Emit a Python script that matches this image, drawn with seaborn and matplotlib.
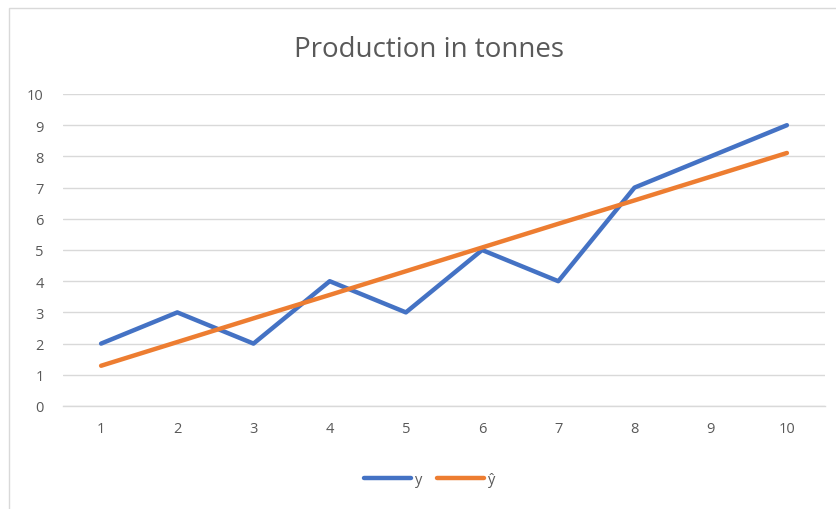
import matplotlib
matplotlib.use("Agg")
import matplotlib.pyplot as plt
import seaborn as sns
import pandas as pd
from matplotlib.patches import Rectangle

# Data
x_vals = [1, 2, 3, 4, 5, 6, 7, 8, 9, 10]
y_vals = [2, 3, 2, 4, 3, 5, 4, 7, 8, 9]
yhat_vals = [1.29, 2.05, 2.81, 3.56, 4.32, 5.08, 5.84, 6.59, 7.35, 8.11]
series_names = ["y", "ŷ"]
title = "Production in tonnes"
y_ticks = [0, 1, 2, 3, 4, 5, 6, 7, 8, 9, 10]

df = pd.DataFrame({
    "x": x_vals * 2,
    "value": y_vals + yhat_vals,
    "series": [series_names[0]] * len(x_vals) + [series_names[1]] * len(x_vals),
})

sns.set_theme(style="white")
plt.rcParams["font.family"] = ["Open Sans", "DejaVu Sans"]

fig = plt.figure(figsize=(8.37, 5.10), dpi=100)
ax = fig.add_axes([63 / 837, 1 - 407 / 510, (825 - 63) / 837, (407 - 95) / 510])

sns.lineplot(data=df, x="x", y="value", hue="series",
             palette={"y": "#4472C4", "ŷ": "#ED7D31"},
             linewidth=3.2, ax=ax, legend=True)

ax.set_xlim(0.5, 10.5)
ax.set_ylim(0, 10)
ax.set_xticks(x_vals)
ax.set_yticks(y_ticks)
ax.tick_params(axis="both", length=0, labelsize=10.5, labelcolor="#595959")
ax.tick_params(axis="x", pad=11)
ax.tick_params(axis="y", pad=14)
ax.grid(axis="y", color="#D9D9D9", linewidth=1)
ax.grid(axis="x", visible=False)
for s in ["top", "right", "left"]:
    ax.spines[s].set_visible(False)
ax.spines["bottom"].set_color("#D9D9D9")
ax.spines["bottom"].set_linewidth(1)
ax.set_xlabel("")
ax.set_ylabel("")
ax.set_axisbelow(True)

fig.text(429 / 837, 1 - 50 / 510, title, ha="center", va="center",
         fontsize=20, color="#595959")

leg = ax.legend(loc="center", bbox_to_anchor=(430 / 837, 1 - 481 / 510),
                bbox_transform=fig.transFigure, ncol=2, frameon=False,
                fontsize=10.5, handlelength=3.2, handletextpad=0.3,
                columnspacing=1.0)
for t in leg.get_texts():
    t.set_color("#595959")

fig.patches.append(Rectangle((9 / 837, -0.1), 1.0, 1 - 9 / 510 + 0.1,
                             transform=fig.transFigure, fill=False,
                             edgecolor="#D9D9D9", linewidth=1))

fig.savefig("out.png", dpi=100, facecolor="white")
